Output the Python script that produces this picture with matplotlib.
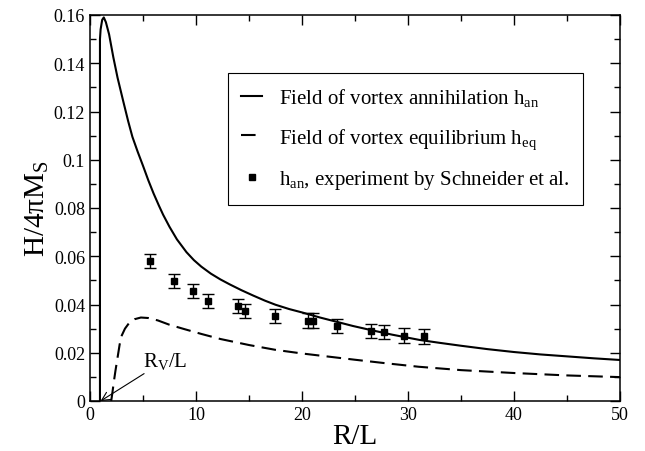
import matplotlib
matplotlib.use("Agg")
import matplotlib.pyplot as plt

plt.rcParams['font.family'] = ['Liberation Serif', 'DejaVu Serif']
plt.rcParams['mathtext.fontset'] = 'custom'
plt.rcParams['mathtext.rm'] = 'Liberation Serif'
plt.rcParams['mathtext.it'] = 'Liberation Serif:italic'

# Field of vortex annihilation (solid)
ann_x = [0.94, 0.94, 1.0, 1.15, 1.3, 1.5, 1.8, 2.2, 2.6, 3.15, 3.6, 4.0, 4.5, 5.0, 5.5, 6.0,
         6.5, 6.9, 7.5, 8.2, 9.1, 9.8, 10.5, 11.4, 12.3, 13.2, 14.3, 15.4, 16.5, 17.5,
         18.8, 20.1, 21.7, 23.3, 24.8, 26.4, 28.5, 31.1, 33.0, 35.0, 37.5, 40.0, 42.5, 45.0,
         47.5, 50.0]
ann_y = [0.0, 0.150, 0.154, 0.158, 0.159, 0.157, 0.152, 0.1425, 0.134, 0.124, 0.116, 0.1095,
         0.1033, 0.0975, 0.0915, 0.0860, 0.0810, 0.0772, 0.0722, 0.0670, 0.0617, 0.0584,
         0.0557, 0.0528, 0.0504, 0.0483, 0.0459, 0.0437, 0.0416, 0.0399, 0.0381, 0.0366,
         0.0346, 0.0328, 0.0311, 0.0295, 0.0275, 0.0253, 0.0241, 0.0229, 0.0215, 0.0203,
         0.0193, 0.0185, 0.0177, 0.0170]

# Field of vortex equilibrium (dashed)
eq_x = [2.0, 2.1, 2.25, 2.4, 2.6, 2.8, 3.0, 3.3, 3.7, 4.2, 4.8, 5.5, 6.4, 7.5, 8.9, 10.5,
        12.3, 15.0, 17.5, 20.0, 22.5, 25.0, 28.0, 31.0, 35.0, 40.0, 45.0, 50.0]
eq_y = [0.0, 0.003, 0.008, 0.0125, 0.018, 0.0235, 0.0272, 0.0300, 0.0324, 0.0339, 0.0346,
        0.0344, 0.0334, 0.0316, 0.0298, 0.0278, 0.0257, 0.0232, 0.0212, 0.0197, 0.0184,
        0.0171, 0.0156, 0.0142, 0.0128, 0.0116, 0.0106, 0.0099]

# Experiment by Schneider et al.
exp_x = [5.66, 7.92, 9.69, 11.13, 13.93, 14.62, 17.45, 20.6, 21.0, 23.27, 26.55, 27.72, 29.6, 31.5]
exp_y = [0.058, 0.0497, 0.0455, 0.0414, 0.0394, 0.0373, 0.0353, 0.0333, 0.0333, 0.0311,
         0.0291, 0.0287, 0.0271, 0.0268]
exp_err = [0.003] * len(exp_x)

fig = plt.figure(figsize=(6.45, 4.52), dpi=100)
ax = fig.add_axes([90/645, 50/452, 530/645, 386/452])

ax.plot(ann_x, ann_y, color='black', lw=1.5, label=r'Field of vortex annihilation h$_{\rm an}$')
ax.plot(eq_x, eq_y, color='black', lw=1.5, linestyle=(0, (7, 3.5)),
        label=r'Field of vortex equilibrium h$_{\rm eq}$')
ax.errorbar(exp_x, exp_y, yerr=exp_err, fmt='none', ecolor='black',
            elinewidth=1.0, capsize=4.3, capthick=1.0)
ax.plot(exp_x, exp_y, 's', color='black', ms=4.5, linestyle='none',
        label=r'h$_{\rm an}$, experiment by Schneider et al.')

ax.annotate(r'R$_{\rm V}$/L', xy=(1.0, 0.0), xytext=(5.0, 0.0125), fontsize=15,
            ha='left', va='bottom',
            arrowprops=dict(arrowstyle='->', color='black', lw=0.8, shrinkA=0, shrinkB=0))

ax.set_xlim(0, 50)
ax.set_ylim(0, 0.16)
ax.set_xticks([0, 10, 20, 30, 40, 50])
ax.set_xticks([5, 15, 25, 35, 45], minor=True)
ax.set_yticks([0, 0.02, 0.04, 0.06, 0.08, 0.1, 0.12, 0.14, 0.16])
ax.set_yticklabels(['0', '0.02', '0.04', '0.06', '0.08', '0.1', '0.12', '0.14', '0.16'])
ax.set_yticks([0.01, 0.03, 0.05, 0.07, 0.09, 0.11, 0.13, 0.15], minor=True)
ax.tick_params(which='both', direction='in', top=True, right=True, labelsize=13, width=1.0)
ax.tick_params(which='major', length=7)
ax.tick_params(which='minor', length=4)
for s in ax.spines.values():
    s.set_linewidth(1.1)

ax.set_xlabel('R/L', fontsize=21, labelpad=0)
ax.set_ylabel(r'H/4πM$_{\rm S}$', fontsize=21, labelpad=2)

leg = ax.legend(loc='upper left', bbox_to_anchor=(0.26, 0.85), fontsize=15, frameon=True,
                fancybox=False, edgecolor='black', framealpha=1, handlelength=1.0,
                borderpad=0.65, labelspacing=0.85, handletextpad=0.8, borderaxespad=0)
leg.get_frame().set_linewidth(0.8)

fig.savefig('out.png', dpi=100)
